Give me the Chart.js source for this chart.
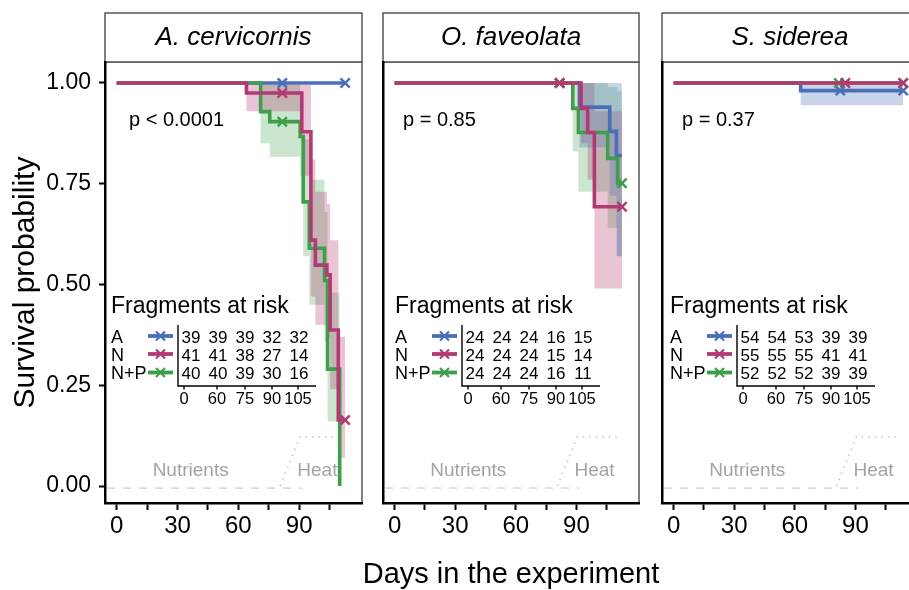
<!DOCTYPE html>
<html>
<head>
<meta charset="utf-8">
<script src="https://cdn.jsdelivr.net/npm/chart.js@4.4.1/dist/chart.umd.min.js"></script>
<style>
  html, body { margin: 0; padding: 0; background: #fff; overflow: hidden; }
  body { width: 909px; height: 590px; position: relative; }
  canvas { position: absolute; top: 0; }
</style>
</head>
<body>
<canvas id="p1" style="left:0px" width="372" height="592"></canvas>
<canvas id="p2" style="left:350px" width="320" height="592"></canvas>
<canvas id="p3" style="left:650px" width="280" height="592"></canvas>
<script>
const panelNames = ["A. cervicornis", "O. faveolata", "S. siderea"];
const pValues = ["p < 0.0001", "p = 0.85", "p = 0.37"];
const treatments = ["A", "N", "N+P"];
const riskTimes = ["0", "60", "75", "90", "105"];
const xTitle = "Days in the experiment";
const yTitle = "Survival probability";

const xTickVals = [0, 15, 30, 45, 60, 75, 90, 105];
const xTickLabels = ["0", "", "30", "", "60", "", "90", ""];
const yTickVals = [0, 0.25, 0.5, 0.75, 1];
const yTickLabels = ["0.00", "0.25", "0.50", "0.75", "1.00"];

// treatment schedule drawn at the bottom of each panel
const nutX = [-4.8, 91.5];
const nutY = [-0.005, -0.005];
const heatX = [80.6, 90.5, 112];
const heatY = [0, 0.122, 0.122];

// A. cervicornis
const acA_t = [0, 112.7];
const acA_s = [1, 1];
const acA_lo = [1, 1];
const acA_hi = [1, 1];
const acA_ct = [81.7, 112.7];
const acA_cs = [1, 1];

const acN_t = [0, 64, 91.3, 95.8, 98, 103.7, 105.3, 109.3, 112.7];
const acN_s = [1, 0.975, 0.879, 0.61, 0.548, 0.524, 0.387, 0.164, 0.164];
const acN_lo = [1, 0.93, 0.77, 0.47, 0.40, 0.37, 0.24, 0.07, 0.07];
const acN_hi = [1, 1, 0.995, 0.81, 0.73, 0.70, 0.61, 0.37, 0.37];
const acN_ct = [81.7, 112.7];
const acN_cs = [0.975, 0.164];

const acNP_t = [0, 71, 75.5, 90.5, 92, 95, 102.5, 104, 110];
const acNP_s = [1, 0.929, 0.904, 0.867, 0.705, 0.59, 0.51, 0.29, 0];
const acNP_lo = [1, 0.85, 0.817, 0.77, 0.57, 0.45, 0.36, 0.16, 0];
const acNP_hi = [1, 1, 0.995, 0.98, 0.86, 0.76, 0.68, 0.48, 0];
const acNP_ct = [81.7];
const acNP_cs = [0.904];

const acRiskA = [39, 39, 39, 32, 32];
const acRiskN = [41, 41, 38, 27, 14];
const acRiskNP = [40, 40, 39, 30, 16];

// O. faveolata
const ofA_t = [0, 91.5, 106.5, 109.8, 112.5];
const ofA_s = [1, 0.94, 0.88, 0.82, 0.82];
const ofA_lo = [1, 0.84, 0.72, 0.57, 0.57];
const ofA_hi = [1, 1, 1, 1, 1];
const ofA_ct = [81.7];
const ofA_cs = [1];

const ofN_t = [0, 92.3, 95.6, 98.9, 112.6];
const ofN_s = [1, 0.937, 0.877, 0.693, 0.693];
const ofN_lo = [1, 0.85, 0.76, 0.49, 0.49];
const ofN_hi = [1, 1, 1, 0.93, 0.93];
const ofN_ct = [81.7, 112.6];
const ofN_cs = [1, 0.693];

const ofNP_t = [0, 88.2, 91, 105.5, 110.4, 112.6];
const ofNP_s = [1, 0.937, 0.877, 0.813, 0.751, 0.751];
const ofNP_lo = [1, 0.83, 0.73, 0.64, 0.57, 0.57];
const ofNP_hi = [1, 1, 1, 0.99, 0.98, 0.98];
const ofNP_ct = [81.7, 112.6];
const ofNP_cs = [1, 0.751];

const ofRiskA = [24, 24, 24, 16, 15];
const ofRiskN = [24, 24, 24, 15, 14];
const ofRiskNP = [24, 24, 24, 16, 11];

// S. siderea
const ssA_t = [0, 62.9, 113.7];
const ssA_s = [1, 0.981, 0.981];
const ssA_lo = [1, 0.945, 0.945];
const ssA_hi = [1, 1, 1];
const ssA_ct = [82.5, 113.7];
const ssA_cs = [0.981, 0.981];

const ssN_t = [0, 113.7];
const ssN_s = [1, 1];
const ssN_lo = [1, 1];
const ssN_hi = [1, 1];
const ssN_ct = [85, 113.7];
const ssN_cs = [1, 1];

const ssNP_t = [0, 113.7];
const ssNP_s = [1, 1];
const ssNP_lo = [1, 1];
const ssNP_hi = [1, 1];
const ssNP_ct = [81.8, 113.7];
const ssNP_cs = [1, 1];

const ssRiskA = [54, 54, 53, 39, 39];
const ssRiskN = [55, 55, 55, 41, 41];
const ssRiskNP = [52, 52, 52, 39, 39];

const lineColors = ["#4a6fb8", "#b23a72", "#3f9e4c"];
const bandColors = ["rgba(74,111,184,0.3)", "rgba(178,58,114,0.3)", "rgba(63,158,76,0.27)"];
const lineOrder = [3, 1, 2]; // N drawn on top, then N+P, then A

const FONT = '"Liberation Sans", Arial, Helvetica, sans-serif';
Chart.defaults.font.family = FONT;
Chart.defaults.color = "#000";

const panelSeries = [
  [[acA_t, acA_s, acA_lo, acA_hi, acA_ct, acA_cs], [acN_t, acN_s, acN_lo, acN_hi, acN_ct, acN_cs], [acNP_t, acNP_s, acNP_lo, acNP_hi, acNP_ct, acNP_cs]],
  [[ofA_t, ofA_s, ofA_lo, ofA_hi, ofA_ct, ofA_cs], [ofN_t, ofN_s, ofN_lo, ofN_hi, ofN_ct, ofN_cs], [ofNP_t, ofNP_s, ofNP_lo, ofNP_hi, ofNP_ct, ofNP_cs]],
  [[ssA_t, ssA_s, ssA_lo, ssA_hi, ssA_ct, ssA_cs], [ssN_t, ssN_s, ssN_lo, ssN_hi, ssN_ct, ssN_cs], [ssNP_t, ssNP_s, ssNP_lo, ssNP_hi, ssNP_ct, ssNP_cs]],
];
const panelRisk = [
  [acRiskA, acRiskN, acRiskNP],
  [ofRiskA, ofRiskN, ofRiskNP],
  [ssRiskA, ssRiskN, ssRiskNP],
];
// left offset of the at-risk inset inside each panel
const tableOffset = [6, 12, 8];
const pOffset = [24, 20, 20];

function pts(t, v) {
  return t.map((x, i) => ({ x: x, y: v[i] }));
}

function buildDatasets(p) {
  const ds = [
    { data: pts(nutX, nutY), borderColor: "#d6d6d6", borderWidth: 1.5, borderDash: [8, 8], pointRadius: 0, order: 20 },
    { data: pts(heatX, heatY), borderColor: "#cccccc", borderWidth: 1.8, borderDash: [1.5, 5], pointRadius: 0, order: 20 },
  ];
  panelSeries[p].forEach((ser, k) => {
    const [t, s, lo, hi, ct, cs] = ser;
    ds.push({ data: pts(t, lo), stepped: true, borderWidth: 0, pointRadius: 0, fill: false, order: 10 });
    ds.push({ data: pts(t, hi), stepped: true, borderWidth: 0, pointRadius: 0, fill: "-1", backgroundColor: bandColors[k], order: 10 });
    ds.push({ data: pts(t, s), stepped: true, borderColor: lineColors[k], borderWidth: 3.6, pointRadius: 0, fill: false, order: lineOrder[k] });
    ds.push({
      data: pts(ct, cs), showLine: false, pointStyle: "crossRot", pointRadius: 6.5,
      pointBorderWidth: 2.5, pointBorderColor: lineColors[k], borderColor: lineColors[k], order: lineOrder[k] - 0.5,
    });
  });
  return ds;
}

function decoPlugin(p) {
  return {
    id: "deco" + p,
    beforeDraw(chart) {
      const { ctx, chartArea: a } = chart;
      ctx.save();
      // panel border
      ctx.strokeStyle = "#555";
      ctx.lineWidth = 1.5;
      ctx.strokeRect(a.left, a.top, a.right - a.left, a.bottom - a.top);
      // facet strip
      ctx.fillStyle = "#fff";
      ctx.fillRect(a.left, 13, a.right - a.left, a.top - 13);
      ctx.strokeRect(a.left, 13, a.right - a.left, a.top - 13);
      ctx.fillStyle = "#000";
      ctx.font = "italic 26px " + FONT;
      ctx.textAlign = "center";
      ctx.textBaseline = "middle";
      ctx.fillText(panelNames[p], (a.left + a.right) / 2, 38);
      ctx.restore();
    },
    beforeDatasetsDraw(chart) {
      const { ctx } = chart;
      const xs = chart.scales.x, ys = chart.scales.y;
      ctx.save();
      ctx.fillStyle = "#a3a3a3";
      ctx.font = "19px " + FONT;
      ctx.textAlign = "center";
      ctx.textBaseline = "alphabetic";
      ctx.fillText("Nutrients", xs.getPixelForValue(36.5), ys.getPixelForValue(0.025));
      ctx.fillText("Heat", xs.getPixelForValue(99), ys.getPixelForValue(0.025));
      ctx.restore();
    },
    afterDraw(chart) {
      const { ctx, chartArea: a } = chart;
      ctx.save();
      ctx.fillStyle = "#000";
      ctx.textBaseline = "alphabetic";
      ctx.textAlign = "left";
      ctx.font = "20px " + FONT;
      ctx.fillText(pValues[p], a.left + pOffset[p], 126);

      // shared x axis title sits under the middle panel
      if (p === 1) {
        ctx.textAlign = "center";
        ctx.textBaseline = "middle";
        ctx.font = "29px " + FONT;
        ctx.fillText(xTitle, (a.left + a.right) / 2, 575);
        ctx.textBaseline = "alphabetic";
        ctx.textAlign = "left";
      }

      // number at risk inset
      const tx = a.left + tableOffset[p];
      ctx.font = "23px " + FONT;
      ctx.fillText("Fragments at risk", tx, 313);
      const rowY = [342.5, 360.5, 379];
      const vx = tx + 67;
      treatments.forEach((lab, k) => {
        ctx.textAlign = "left";
        ctx.fillStyle = "#000";
        ctx.font = "18px " + FONT;
        ctx.fillText(lab, tx, rowY[k]);
        const ky = rowY[k] - 6.5;
        ctx.strokeStyle = lineColors[k];
        ctx.lineWidth = 3.8;
        ctx.beginPath();
        ctx.moveTo(tx + 37, ky);
        ctx.lineTo(tx + 62, ky);
        ctx.stroke();
        ctx.lineWidth = 2.2;
        ctx.beginPath();
        ctx.moveTo(tx + 45, ky - 4.5); ctx.lineTo(tx + 54, ky + 4.5);
        ctx.moveTo(tx + 45, ky + 4.5); ctx.lineTo(tx + 54, ky - 4.5);
        ctx.stroke();
        ctx.textAlign = "center";
        ctx.font = "17px " + FONT;
        panelRisk[p][k].forEach((n, i) => {
          ctx.fillText(String(n), vx + 13 + i * 27, rowY[k]);
        });
      });
      ctx.strokeStyle = "#000";
      ctx.lineWidth = 1.4;
      ctx.beginPath();
      ctx.moveTo(vx, 325);
      ctx.lineTo(vx, 386);
      ctx.lineTo(tx + 205, 386);
      ctx.stroke();
      const tickX = [6, 39, 67, 94, 120];
      ctx.font = "16.5px " + FONT;
      ctx.textAlign = "center";
      riskTimes.forEach((lab, i) => {
        ctx.beginPath();
        ctx.moveTo(vx + tickX[i], 386);
        ctx.lineTo(vx + tickX[i], 389.5);
        ctx.stroke();
        ctx.fillText(lab, vx + tickX[i], 404);
      });
      ctx.restore();
    },
  };
}

function makeChart(id, p, padLeft, padRight) {
  const first = p === 0;
  return new Chart(document.getElementById(id), {
    type: "line",
    data: { datasets: buildDatasets(p) },
    options: {
      responsive: false,
      animation: false,
      devicePixelRatio: 1,
      layout: { padding: { left: padLeft, right: padRight, top: 62, bottom: 0 } },
      plugins: { legend: { display: false }, tooltip: { enabled: false } },
      scales: {
        x: {
          type: "linear",
          min: -5.75,
          max: 121,
          afterBuildTicks: (s) => { s.ticks = xTickVals.map((v) => ({ value: v })); },
          afterFit: (s) => { s.height = 89; },
          grid: { drawOnChartArea: false, drawTicks: true, tickLength: 7, tickColor: "#000", tickWidth: 2 },
          border: { display: true, color: "#000", width: 2.5 },
          ticks: {
            autoSkip: false, maxRotation: 0, padding: 2,
            font: { size: 24 }, color: "#000",
            callback: (v, i) => xTickLabels[i],
          },
        },
        y: {
          type: "linear",
          min: -0.042,
          max: 1.052,
          afterBuildTicks: (s) => { s.ticks = yTickVals.map((v) => ({ value: v })); },
          afterFit: (s) => { s.width = first ? 105 : 0; },
          grid: { drawOnChartArea: false, drawTicks: first, tickLength: 6, tickColor: "#000", tickWidth: 2 },
          border: { display: true, color: "#000", width: 2.5 },
          ticks: {
            display: first, padding: 8,
            font: { size: 23 }, color: "#000",
            callback: (v, i) => yTickLabels[i],
          },
          title: {
            display: first, text: yTitle,
            font: { size: 30 }, color: "#000", padding: { top: 8, bottom: 0 },
          },
        },
      },
    },
    plugins: [decoPlugin(p)],
  });
}

makeChart("p1", 0, 0, 10);
makeChart("p2", 1, 33, 31);
makeChart("p3", 2, 12, 12);
</script>
</body>
</html>
